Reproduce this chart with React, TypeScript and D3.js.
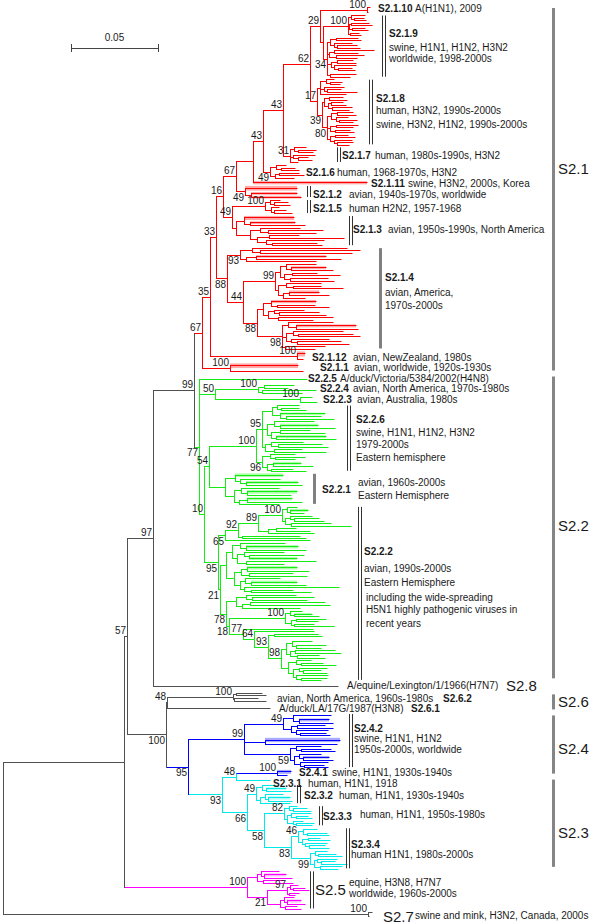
import React, { useMemo } from "react";
import * as d3 from "d3";

// ---------------- DATA ----------------
// Newick pieces. Branch lengths are in tree units: 87 units = 0.05 substitutions/site.
// Leaf codes: "a" = one sequence, "wN" = sequence line occupying N rows, "bN" = collapsed bundle of N rows.
// Internal labels: bootstrap ("v" = printed under the branch) and an optional "|clade tag".

const S2_1_10 = "(w1.8:3,w1.8:1)100|S2.1.10:47";
const N100A = "((a:14,(a:10,a:12):3):3,((a:18,a:21):2,(a:13,a:16):3):1,(a:9,a:11):2)100:25";
const N34 = "(((a:22,a:25):6,(a:18,(a:20,a:23):3):4):3,((a:40,a:24):5,(a:28,a:21):7):2,((a:16,a:19):6,(a:22,(a:14,a:17):4):3):4,(w1.6:26,a:20):3)34v:4";
const S2_1_9 = `(${N100A},${N34})|S2.1.9:3`;
const S218UP = "((a:8,(a:12,a:10):4):6,(a:20,(a:14,a:30):3):4,a:26):3";
const GRPA = "((a:14,a:18):5,((a:12,a:15):3,(a:20,a:17):4):4):2";
const N80 = "(((a:16,a:19):6,(a:12,(a:18,a:14):3):5):4,((a:22,a:17):6,(a:15,a:19):5):3,((a:13,a:20):5,(a:18,(a:16,a:12):3):4):3)80v:5";
const N39 = `(${GRPA},${N80})39v:5`;
const S2_1_8 = `(${S218UP},${N39})17|S2.1.8:7`;
const S2_1_7 = "((a:12,(a:18,a:15):4):4,(a:22,(a:10,a:14):5):3,a:8)31|S2.1.7:7";
const S2_1_6 = "((w1.3:10,(a:14,a:18):5):6,((a:20,a:25):4,w1.3:19):5)49v|S2.1.6:7";
const S2_1_11 = "b1.8|S2.1.11:114";
const S2_1_2 = "(b2.6:52,(b1.5:46,b1.5:50):6)49v|S2.1.2:9";
const S2_1_5 = "((a:10,(a:14,a:16):4):5,(a:8,(w1.4:12,a:18):3):6)100|S2.1.5:33";
const S2_1_3 = "((b2.3:50,(b1.5:45,a:55):6):8,((a:40,(a:55,a:48):8):10,((a:30,a:75):12,(a:58,(a:45,a:50):6):9):7):14)|S2.1.3:4";
const N93 = "((a:95,(a:100,a:92):8):12,((b1.4:70,a:85):10,a:70):6)93v:13";
const N99 = "(((a:30,(b1.6:35,a:42):5):6,((a:25,a:48):8,(a:38,a:44):6):4):5,((a:35,(a:28,a:50):7):8,((b1.8:30,a:40):6,a:22):5):3)99:32";
const SUBA = "((b1.8:45,(a:38,a:52):6):8,((a:30,(a:40,a:47):5):6,(a:55,a:35):10):5):6";
const N98 = "((a:45,(b1.6:60,a:62):8):6,((a:50,(a:55,a:62):5):7,(a:38,(a:44,a:52):6):5):4,(a:40,a:30):3)98v:25";
const S2_1_4 = `(${N93},(${N99},(${SUBA},${N98})88v:14)44:16)88v|S2.1.4:11`;
const S2_1_12 = "(b2.8:8,w2:6)100|S2.1.12:87";
const S2_1_1 = "(b2.6:68,w2:73)100|S2.1.1:28";

const S2_2_5 = "w4.2|S2.2.5:108";
const S2_2_4 = "((a:30,a:24):6,(a:54,a:40):4)100|S2.2.4:43";
const S2_2_3 = "(w2:12,w2:17)100|S2.2.3:85";
const N95 = "(((a:22,(a:18,a:25):4):5,(b1.4:45,(a:35,a:48):6):8):10,((a:40,(b1.6:38,a:55):6):7,((a:30,a:45):9,(b1.6:50,a:60):5):4):5,((a:32,(a:44,a:50):7):6,(a:28,a:52):9):3)95:6";
const N96 = "((a:25,(a:30,a:20):5):8,((b1.6:28,a:40):6,(a:22,a:35):4):5)96v:6";
const S2_2_6 = `(${N95},${N96})100|S2.2.6:47`;
const S2_2_1 = "((b2:48,(a:40,(b1.6:52,a:56):6):5):10,((a:38,(b2:50,a:44):6):7,((b1.6:45,a:55):8,a:40):5):9)|S2.2.1:16";
const N100C = "((a:10,(b1.6:18,a:14):3):5,((a:22,(a:25,a:30):4):5,(a:40,a:60):6):3)100:24";
const GRPE = "(((a:45,(b1.8:52,a:60):6):8,((a:40,(a:55,b1.6:48):5):7,(a:70,a:38):9):5):6,(((b1.8:50,a:62):6,(a:44,a:58):8):7,((a:35,(b1.6:46,a:55):6):5,(a:95,(a:42,a:60):7):4):6):8):6";
const GRPF = "((a:50,(a:62,a:55):6):10,((a:75,w1.4:80):8,a:58):6):10";
const N100D = "((a:12,(b1.2:18,a:25):4):5,((a:30,a:22):5,(a:20,a:40):3):6)100:56";
const N98B = "(((w2.4:20,(a:30,a:25):4):6,((a:40,a:46):5,(a:22,a:28):7):4):5,((a:15,(a:22,a:35):5):8,((a:28,(a:18,a:24):4):6,(a:32,(a:26,a:20):5):3):5):7)98:13";

const S2_8 = "w4|S2.8:185";
const S2_6_2 = "((a:26,a:30):3,(a:24,w1.6:32):1)100|S2.6.2:66";
const S2_6_1 = "w3.8|S2.6.1:103";
const N49C = "((w2:38,(b1.6:30,a:34):6):10,((a:28,a:36):6,(a:32,(a:26,a:30):4):5):8)49:39";
const N59 = "((a:25,(a:30,a:34):5):6,((a:22,(b1.4:26,a:30):4):5,(a:28,(a:20,a:24):4):6):4)59v:46";
const S2_4_2 = `(${N49C},(b2.4:75,a:72):21,${N59})99|S2.4.2:56`;
const S2_4_1 = "(b2.2:14,a:10)100|S2.4.1:41";
const S2_3_1 = "w2.8|S2.3.1:34";
const S2_3_2 = "((a:14,(b1.6:20,a:25):4):6,((a:18,(b1.8:22,a:24):3):5,a:30):4)49|S2.3.2:9";
const S2_3_3 = "((a:8,(a:14,a:18):4):5,((a:20,(a:12,a:16):5):4,(a:10,(w0.8:18,a:16):3):6):3)82|S2.3.3:20";
const N46 = "((w1.8:14,(a:20,a:22):4):5,((a:12,a:22):6,(a:22,(a:16,a:20):4):3):4)46:7";
const N99C = "((w1.4:12,(a:18,a:24):3):5,((a:20,(a:14,a:26):4):3,(a:22,a:18):6):4)99v:19";
const TOPM = "((a:18,(b1.6:22,a:28):3):4,(a:20,a:30):6):10";
const N97 = "((a:8,(a:12,a:16):3):3,(a:10,w0.8:6):2)97:20";
const BOTM = "((a:10,(b1.6:14,a:18):3):4,(a:12,a:16):5):13";
const S2_7 = "(w1.6:4,w1.6:1)100|S2.7:365";

// assembly of the backbone
const N29 = `(${S2_1_10},${S2_1_9})29:10`;
const N62 = `(${N29},${S2_1_8})62:27`;
const N43A = `(${N62},${S2_1_7})43:20`;
const N43B = `(${N43A},${S2_1_6})43:10`;
const N253 = `(${N43B},${S2_1_11}):17`;
const N67 = `(${N253},${S2_1_2})67:13`;
const N49Y = `(${S2_1_5},${S2_1_3})49:9`;
const N16 = `(${N67},${N49Y})16:7`;
const N33 = `(${N16},${S2_1_4})33:6`;
const N35 = `(${N33},${S2_1_12})35:8`;
const S2_1 = `(${N35},${S2_1_1})67|S2.1:8`;

const N50 = `(${S2_2_4},${S2_2_3})50:16`;
const N209 = `(${S2_2_6},${S2_2_1})54:5`;
const N89 = `(${N100C},((a:20,a:34):8,a:46):10)89:20`;
const N92 = `(${N89},(a:58,w0.8:64):4)92:13`;
const N65 = `(${N92},a:85)65v:7`;
const N93B = `((a:44,a:48):6,${N98B})93:14`;
const N64 = `(a:60,${N93B})64:11`;
const N77 = `(a:70,${N64})77:14`;
const N18 = `(${N100D},${N77})18v:3`;
const N78 = `(${GRPF},${N18})78v:6`;
const N21 = `(${GRPE},${N78})21v:2`;
const N95B = `(${N65},${N21})95v|S2.2.2:14`;
const N10 = `(${N209},${N95B})10:5`;
const S2_2 = `(${S2_2_5},${N50},${N10})77v|S2.2:5`;

const NB = `(${S2_1},${S2_2})99:41`;
const NC = `(${NB},${S2_8})97:26`;
const NF = `(${S2_6_2},${S2_6_1})48|S2.6:1`;
const NI = `(${S2_4_1},${S2_3_1})48:14`;
const NM = `(${N46},${N99C})83v|S2.3.4:27`;
const NL = `(${S2_3_3},${NM})58v:17`;
const NJ = `(${S2_3_2},${NL})66v:25`;
const NH = `(${NI},${NJ})93v|S2.3-lineage:34`;
const NG = `(${S2_4_2},${NH})95v|S2.4-lineage:22`;
const NE = `(${NF},${NG})100v:39`;
const ND = `(${NC},${NE})57:3`;
const NP = `(${TOPM},(${N97},${BOTM})21v:20)100|S2.5:123`;
const NN = `(${ND},${NP}):121`;
const TREE = `(${NN},${S2_7});`;

const CLADE_COLORS = [
  { tag: "S2.1", color: "#ff0000", light: "#ffa8a8" },
  { tag: "S2.2", color: "#14ec14", light: "#a8ffa8" },
  { tag: "S2.4-lineage", color: "#0000ff", light: "#a8a8ff" },
  { tag: "S2.3-lineage", color: "#00eaea", light: "#b0ffff" },
  { tag: "S2.4.1", color: "#0000ff", light: "#a8a8ff" },
  { tag: "S2.5", color: "#ff00ff", light: "#ffb0ff" },
];

const SUBCLADE_BARS = [
  { tag: "S2.1.9", x: 382, kind: "double" },
  { tag: "S2.1.8", x: 369, kind: "double" },
  { tag: "S2.1.7", x: 337, kind: "double" },
  { tag: "S2.1.2", x: 307, kind: "double" },
  { tag: "S2.1.5", x: 307, kind: "double" },
  { tag: "S2.1.3", x: 349, kind: "double" },
  { tag: "S2.1.4", x: 379, kind: "thick" },
  { tag: "S2.2.6", x: 347, kind: "double" },
  { tag: "S2.2.1", x: 313, kind: "thick" },
  { tag: "S2.2.2", x: 358, kind: "double" },
  { tag: "S2.4.2", x: 349, kind: "double" },
  { tag: "S2.3.2", x: 297, kind: "double" },
  { tag: "S2.3.3", x: 319, kind: "double" },
  { tag: "S2.3.4", x: 346, kind: "double" },
  { tag: "S2.5", x: 310, kind: "double" },
];

const GROUP_BARS = [
  { from: "S2.1", to: "S2.1" },
  { from: "S2.2", to: "S2.2" },
  { from: "S2.6", to: "S2.6" },
  { from: "S2.4.2", to: "S2.4.1" },
  { from: "S2.3.1", to: "S2.3.4" },
];

const BOLD_LABELS = [
  { t: "S2.1.10", x: 378, y: 8 }, { t: "S2.1.9", x: 389, y: 33 }, { t: "S2.1.8", x: 376, y: 98 },
  { t: "S2.1.7", x: 342, y: 155 }, { t: "S2.1.6", x: 306, y: 172 }, { t: "S2.1.11", x: 371, y: 183 },
  { t: "S2.1.2", x: 313, y: 194 }, { t: "S2.1.5", x: 313, y: 208 }, { t: "S2.1.3", x: 353, y: 229 },
  { t: "S2.1.4", x: 385, y: 277 }, { t: "S2.1.12", x: 312, y: 357 }, { t: "S2.1.1", x: 320, y: 367 },
  { t: "S2.2.5", x: 308, y: 378 }, { t: "S2.2.4", x: 320, y: 388 }, { t: "S2.2.3", x: 323, y: 399 },
  { t: "S2.2.6", x: 356, y: 419 }, { t: "S2.2.1", x: 322, y: 489 }, { t: "S2.2.2", x: 364, y: 551 },
  { t: "S2.6.2", x: 443, y: 698 }, { t: "S2.6.1", x: 411, y: 708 }, { t: "S2.4.2", x: 354, y: 728 },
  { t: "S2.4.1", x: 299, y: 772 }, { t: "S2.3.1", x: 273, y: 783 }, { t: "S2.3.2", x: 304, y: 795 },
  { t: "S2.3.3", x: 323, y: 816 }, { t: "S2.3.4", x: 351, y: 844 },
];

const NOTE_LABELS = [
  { t: "A(H1N1), 2009", x: 415, y: 8 },
  { t: "swine, H1N1, H1N2, H3N2", x: 389, y: 47 }, { t: "worldwide, 1998-2000s", x: 389, y: 58 },
  { t: "human, H3N2, 1990s-2000s", x: 376, y: 110 }, { t: "swine, H3N2, H1N2, 1990s-2000s", x: 376, y: 124 },
  { t: "human, 1980s-1990s, H3N2", x: 375, y: 155 },
  { t: "human, 1968-1970s, H3N2", x: 337, y: 172 },
  { t: "swine, H3N2, 2000s, Korea", x: 408, y: 183 },
  { t: "avian, 1940s-1970s, worldwide", x: 349, y: 194 },
  { t: "human H2N2, 1957-1968", x: 349, y: 208 },
  { t: "avian, 1950s-1990s, North America", x: 388, y: 229 },
  { t: "avian, America,", x: 385, y: 292 }, { t: "1970s-2000s", x: 385, y: 305 },
  { t: "avian, NewZealand, 1980s", x: 353, y: 357 },
  { t: "avian, worldwide, 1920s-1930s", x: 354, y: 367 },
  { t: "A/duck/Victoria/5384/2002(H4N8)", x: 340, y: 378 },
  { t: "avian, North America, 1970s-1980s", x: 353, y: 388 },
  { t: "avian, Australia, 1980s", x: 357, y: 399 },
  { t: "swine, H1N1, H1N2, H3N2", x: 356, y: 432 }, { t: "1979-2000s", x: 356, y: 444 },
  { t: "Eastern hemisphere", x: 356, y: 457 },
  { t: "avian, 1960s-2000s", x: 358, y: 482 }, { t: "Eastern Hemisphere", x: 358, y: 495 },
  { t: "avian, 1990s-2000s", x: 364, y: 568 }, { t: "Eastern Hemisphere", x: 364, y: 582 },
  { t: "including the wide-spreading", x: 366, y: 597 },
  { t: "H5N1 highly pathogenic viruses in", x: 366, y: 609 }, { t: "recent years", x: 366, y: 623 },
  { t: "A/equine/Lexington/1/1966(H7N7)", x: 347, y: 685 },
  { t: "avian, North America, 1960s-1980s", x: 277, y: 698 },
  { t: "A/duck/LA/17G/1987(H3N8)", x: 279, y: 708 },
  { t: "swine, H1N1, H1N2", x: 354, y: 738 }, { t: "1950s-2000s, worldwide", x: 354, y: 749 },
  { t: "swine, H1N1, 1930s-1940s", x: 332, y: 772 },
  { t: "human, H1N1, 1918", x: 308, y: 783 },
  { t: "human, H1N1, 1930s-1940s", x: 339, y: 795 },
  { t: "human, H1N1, 1950s-1980s", x: 360, y: 814 },
  { t: "human H1N1, 1980s-2000s", x: 351, y: 854 },
  { t: "equine, H3N8, H7N7", x: 349, y: 882 }, { t: "worldwide, 1960s-2000s", x: 349, y: 893 },
  { t: "swine and mink, H3N2, Canada, 2000s", x: 415, y: 915 },
];

const BIG_LABELS = [
  { t: "S2.8", x: 506, y: 685 }, { t: "S2.5", x: 315, y: 889 }, { t: "S2.7", x: 383, y: 916 },
  { t: "S2.1", x: 558, y: 168 }, { t: "S2.2", x: 558, y: 525 }, { t: "S2.6", x: 558, y: 701 },
  { t: "S2.4", x: 558, y: 748 }, { t: "S2.3", x: 558, y: 832 },
];

const SCALE_BAR_VALUE = 0.05;

// ---------------- LAYOUT ----------------
const FONT = "'Liberation Sans', Arial, Helvetica, sans-serif";
const SUBS_PER_UNIT = 0.05 / 87;
const DEFAULT_COLOR = "#505050";
const DEFAULT_LIGHT = "#b0b0b0";

type RawNode = { children: RawNode[]; label: string; length: number };

function parseNewick(src: string): RawNode {
  const s = src.replace(/\s+/g, "");
  let i = 0;
  const node = (): RawNode => {
    const n: RawNode = { children: [], label: "", length: 0 };
    if (s[i] === "(") {
      i++;
      n.children.push(node());
      while (s[i] === ",") {
        i++;
        n.children.push(node());
      }
      i++;
    }
    let lab = "";
    while (i < s.length && !",():;".includes(s[i])) lab += s[i++];
    n.label = lab;
    if (s[i] === ":") {
      i++;
      let num = "";
      while (i < s.length && !",();".includes(s[i])) num += s[i++];
      n.length = parseFloat(num);
    }
    return n;
  };
  return node();
}

type Info = {
  depth: number; x: number; y: number; s0: number; s1: number; w: number; bundle: boolean;
  color: string; light: string; tag: string; boot: string; below: boolean; leaf: boolean;
};

function buildTree() {
  const raw = parseNewick(TREE);
  const root = d3.hierarchy<RawNode>(raw, (d) => (d.children.length ? d.children : null));
  const xScale = d3.scaleLinear().domain([0, 0.05]).range([3, 90]);
  let slot = 0;
  const info = new Map<any, Info>();
  root.eachBefore((n) => {
    const [spec, tag = ""] = n.data.label.split("|");
    const p = n.parent ? info.get(n.parent)! : null;
    const depth = (p ? p.depth : 0) + n.data.length;
    const leaf = !n.children;
    const cc = CLADE_COLORS.find((c) => c.tag === tag);
    const it: Info = {
      depth, x: xScale(depth * SUBS_PER_UNIT), y: 0, s0: 0, s1: 0, w: 1, bundle: false,
      color: cc ? cc.color : p ? p.color : DEFAULT_COLOR,
      light: cc ? cc.light : p ? p.light : DEFAULT_LIGHT,
      tag, boot: "", below: false, leaf,
    };
    if (leaf) {
      if (spec[0] === "w" || spec[0] === "b") it.w = parseFloat(spec.slice(1));
      it.bundle = spec[0] === "b";
      it.s0 = slot;
      slot += it.w;
      it.s1 = slot;
    } else {
      it.below = spec.endsWith("v");
      it.boot = it.below ? spec.slice(0, -1) : spec;
    }
    info.set(n, it);
  });
  const yScale = d3.scaleLinear().domain([0, slot]).range([5, 918]);
  root.eachAfter((n) => {
    const it = info.get(n)!;
    if (it.leaf) {
      it.y = yScale((it.s0 + it.s1) / 2);
    } else {
      const kids = n.children!.map((c) => info.get(c)!);
      it.y = (kids[0].y + kids[kids.length - 1].y) / 2;
      it.s0 = kids[0].s0;
      it.s1 = kids[kids.length - 1].s1;
    }
  });
  const nodes = root.descendants().map((n) => ({
    it: info.get(n)!,
    parent: n.parent ? info.get(n.parent)! : null,
    kids: n.children ? n.children.map((c) => info.get(c)!) : [],
  }));
  const byTag = new Map<string, Info>();
  nodes.forEach((n) => n.it.tag && byTag.set(n.it.tag, n.it));
  return { nodes, yScale, xScale, byTag };
}

const px = (v: number) => Math.round(v) + 0.5;

export default function App() {
  const { nodes, yScale, xScale, byTag } = useMemo(buildTree, []);
  const scaleLen = xScale(SCALE_BAR_VALUE) - xScale(0);
  const sbX = 71;
  const sbY = 48;

  return (
    <div style={{ position: "absolute", left: 0, top: 0 }}>
      <svg width={600} height={924} style={{ display: "block", background: "#fff", fontFamily: FONT }}>
        <rect width={600} height={924} fill="#fff" />
        {/* scale bar */}
        <g stroke="#444" strokeWidth={1}>
          <line x1={sbX} x2={sbX + scaleLen} y1={px(sbY)} y2={px(sbY)} />
          <line x1={px(sbX)} x2={px(sbX)} y1={sbY - 4} y2={sbY + 4} />
          <line x1={px(sbX + scaleLen)} x2={px(sbX + scaleLen)} y1={sbY - 4} y2={sbY + 4} />
        </g>
        <text x={sbX + scaleLen / 2} y={41} fontSize={10} textAnchor="middle" fill="#222">
          {SCALE_BAR_VALUE.toFixed(2)}
        </text>

        {/* bundles */}
        {nodes.filter((n) => n.it.bundle && n.parent).map((n, i) => {
          const h = (yScale(n.it.s1) - yScale(n.it.s0)) * 0.72;
          return (
            <rect key={"b" + i} x={n.parent!.x} width={Math.max(0, n.it.x - n.parent!.x)}
              y={n.it.y - h / 2 + 0.5} height={h} fill={n.it.light} />
          );
        })}
        {/* horizontal branches */}
        {nodes.filter((n) => n.parent).map((n, i) => (
          <line key={"h" + i} x1={n.parent!.x} x2={n.it.x + 0.5} y1={px(n.it.y)} y2={px(n.it.y)}
            stroke={n.it.color} strokeWidth={1} />
        ))}
        {/* vertical connectors */}
        {nodes.filter((n) => n.kids.length).map((n, i) => (
          <line key={"v" + i} x1={px(n.it.x)} x2={px(n.it.x)} y1={px(n.kids[0].y)}
            y2={px(n.kids[n.kids.length - 1].y) + 0.5} stroke={n.it.color} strokeWidth={1} />
        ))}
        {/* bootstrap values */}
        {nodes.filter((n) => n.it.boot).map((n, i) => (
          <text key={"t" + i} x={n.it.x - 1} y={n.it.below ? n.it.y + 9.5 : n.it.y - 2}
            fontSize={10} textAnchor="end" fill="#1a1a1a">{n.it.boot}</text>
        ))}

        {/* subclade bars */}
        {SUBCLADE_BARS.map((b) => {
          const c = byTag.get(b.tag)!;
          const y1 = yScale(c.s0) + 1.5;
          const y2 = yScale(c.s1) - 1.5;
          return b.kind === "double" ? (
            <g key={b.tag} stroke="#333" strokeWidth={1}>
              <line x1={b.x + 0.5} x2={b.x + 0.5} y1={y1} y2={y2} />
              <line x1={b.x + 3.5} x2={b.x + 3.5} y1={y1} y2={y2} />
            </g>
          ) : (
            <rect key={b.tag} x={b.x} width={3} y={y1} height={y2 - y1} fill="#808080" />
          );
        })}
        {/* group bars */}
        {GROUP_BARS.map((g) => {
          const y1 = yScale(byTag.get(g.from)!.s0) + 3;
          const y2 = yScale(byTag.get(g.to)!.s1) - 3;
          return <rect key={g.from} x={552} width={3} y={y1} height={y2 - y1} fill="#858585" />;
        })}

        {/* labels */}
        {BOLD_LABELS.map((l, i) => (
          <text key={"bl" + i} x={l.x} y={l.y + 3.6} fontSize={10} fontWeight="bold" fill="#1a1a1a">{l.t}</text>
        ))}
        {NOTE_LABELS.map((l, i) => (
          <text key={"nl" + i} x={l.x} y={l.y + 3.6} fontSize={10} fill="#1a1a1a">{l.t}</text>
        ))}
        {BIG_LABELS.map((l, i) => (
          <text key={"gl" + i} x={l.x} y={l.y + 5.5} fontSize={15} fill="#1a1a1a">{l.t}</text>
        ))}
      </svg>
    </div>
  );
}
